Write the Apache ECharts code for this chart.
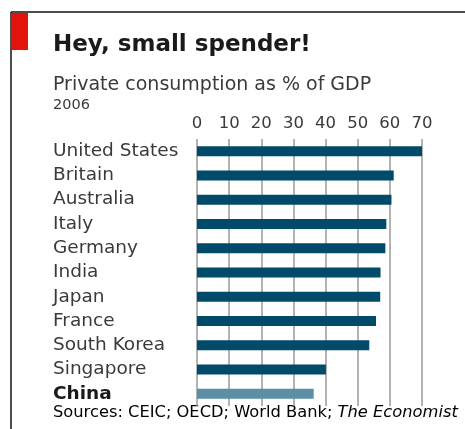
<!DOCTYPE html>
<html><head><meta charset="utf-8">
<script src="https://cdn.jsdelivr.net/npm/echarts@6/dist/echarts.min.js"></script>
<style>html,body{margin:0;padding:0;background:#fff}#c{width:465px;height:429px}</style>
</head><body><div id="c"></div>
<script>
var countries = ["United States","Britain","Australia","Italy","Germany","India","Japan","France","South Korea","Singapore","China"];
var values = [70.0, 61.2, 60.5, 58.9, 58.6, 57.1, 57.0, 55.7, 53.6, 40.1, 36.3];
var highlight = "China";
var tickValues = [0,10,20,30,40,50,60,70];
var FONT = "DejaVu Sans";
var chart = echarts.init(document.getElementById('c'), null, {renderer:'canvas'});
var option = {
  animation:false,
  backgroundColor:'#fff',
  grid:{left:197, right:43, top:139, bottom:23, containLabel:false},
  xAxis:{type:'value', position:'top', min:tickValues[0], max:tickValues[tickValues.length-1], interval:10,
    axisLine:{show:false}, axisTick:{show:false},
    axisLabel:{fontFamily:FONT, fontSize:16.5, color:'#3a3a3a', margin:7},
    splitLine:{show:true, lineStyle:{color:'#9a9a9a', width:1.5}}},
  yAxis:{type:'category', data:countries, inverse:true,
    axisLine:{show:false}, axisTick:{show:false}, splitLine:{show:false},
    axisLabel:{interval:0, align:'left', margin:144, fontFamily:FONT, fontSize:18.5, color:'#3a3a3a',
      formatter:function(v){return v===highlight?'{b|'+v+'}':v;},
      rich:{b:{fontFamily:FONT, fontSize:18.5, fontWeight:'bold', color:'#1a1a1a'}}}},
  series:[{type:'bar', barWidth:10,
    data:values.map(function(v,i){return {value:v, itemStyle:{color: countries[i]===highlight?'#5a8fa5':'#004b69'}};})}],
  graphic:[
    {type:'line', shape:{x1:11,y1:12,x2:465,y2:12}, style:{stroke:'#111', lineWidth:1.5}},
    {type:'line', shape:{x1:11,y1:12,x2:11,y2:429}, style:{stroke:'#111', lineWidth:1.5}},
    {type:'rect', shape:{x:11,y:13,width:17,height:37}, style:{fill:'#e3120b'}},
    {type:'text', left:53, top:34, style:{text:'Hey, small spender!', fontFamily:FONT, fontSize:23, fontWeight:'bold', fill:'#1a1a1a'}},
    {type:'text', left:53, top:76, style:{text:'Private consumption as % of GDP', fontFamily:FONT, fontSize:19, fill:'#3a3a3a'}},
    {type:'text', left:53, top:98, style:{text:'2006', fontFamily:FONT, fontSize:14.5, fill:'#3a3a3a'}},
    {type:'text', left:53, top:405, style:{text:'{n|Sources: CEIC; OECD; World Bank; }{i|The Economist}', rich:{
      n:{fontFamily:FONT, fontSize:16.3, color:'#3a3a3a'},
      i:{fontFamily:FONT, fontSize:16.3, fontStyle:'italic', color:'#3a3a3a'}}}}
  ]
};
chart.setOption(option);
</script></body></html>
